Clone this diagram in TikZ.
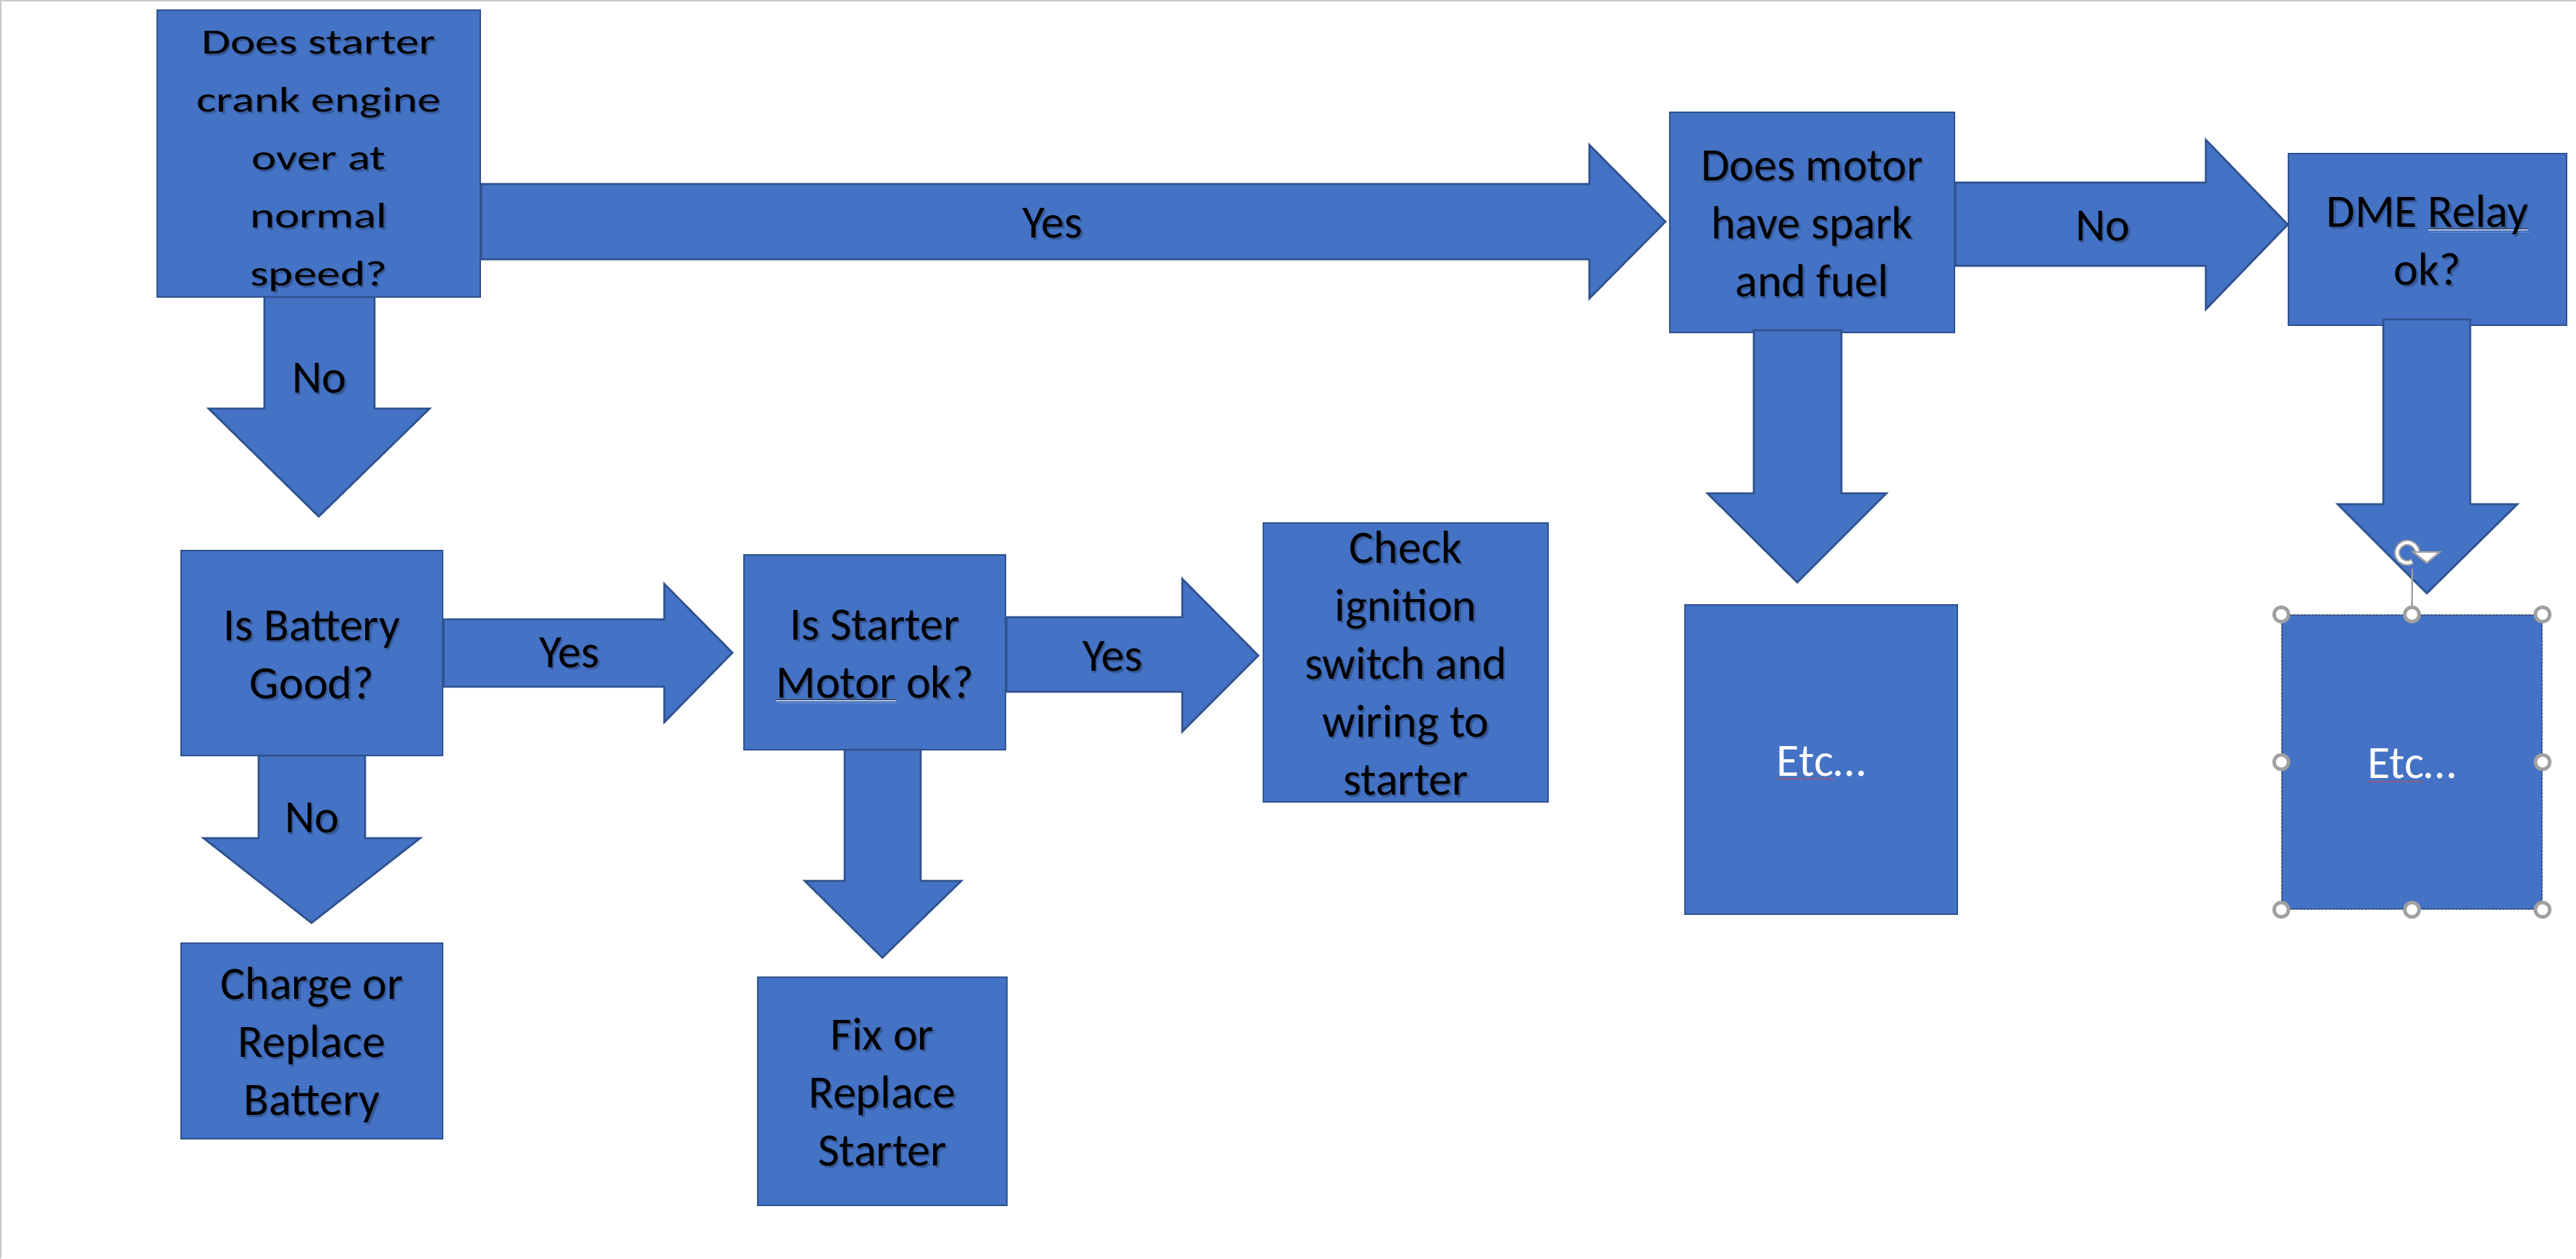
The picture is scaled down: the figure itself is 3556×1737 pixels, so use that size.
\documentclass[tikz,border=0pt]{standalone}
\usepackage{fontspec}
\usetikzlibrary{calc}
\setmainfont{Carlito}
\newfontfamily\widefont[FakeStretch=1.33]{Carlito}
\definecolor{boxfill}{HTML}{4472C4}
\definecolor{boxline}{HTML}{2F528F}
\definecolor{hgrey}{HTML}{A0A0A0}
\definecolor{squigred}{HTML}{D04848}
\newsavebox\wbox
\newcommand\st{\rule[-8.75pt]{0pt}{40pt}}
\newcommand\dul[1]{\sbox\wbox{#1}\rlap{\color{black!75}\rule[-1.4pt]{\wd\wbox}{0.5pt}}\rlap{\color{white}\rule[-2.6pt]{\wd\wbox}{0.5pt}}\usebox\wbox}
\newcommand\squig[1]{\sbox\wbox{#1}\rlap{\color{squigred}\xleaders\hbox{\rule[-2.6pt]{0.7pt}{0.5pt}\rule[-2pt]{0.7pt}{0.5pt}}\hskip\wd\wbox}\usebox\wbox}
\newcommand\stext[4]{%
  \node[#1, opacity=0.22, xshift=1.2pt, yshift=-1.5pt] at #3 {#4};
  \node[#1] (#2) at #3 {#4};}
\tikzset{
  boxnode/.style={rectangle, draw=boxline, fill=boxfill, line width=1.35pt, inner sep=0pt},
  barrow/.style={draw=boxline, fill=boxfill, line width=1.35pt, line join=miter},
  txt/.style={inner sep=0pt, align=center, text=black, font=\fontsize{32}{40}\selectfont},
  wtxt/.style={txt, font=\widefont\fontsize{24.5}{40}\selectfont},
  etctxt/.style={inner sep=0pt, align=center, text=white, font=\fontsize{32}{40}\selectfont},
  handle/.style={circle, draw=hgrey, fill=white, line width=2.4pt, minimum size=10pt, inner sep=0pt},
}
\begin{document}
\begin{tikzpicture}[x=0.5pt, y=-0.5pt]
\useasboundingbox[fill=white] (0,0) rectangle (3556,1737);
\draw[black!22, line width=1pt] (0,1) -- (3556,1);
\draw[black!22, line width=1pt] (1,0) -- (1,1737);

% boxes
\node[boxnode, minimum width=223pt, minimum height=198pt] (b1) at (440,212) {};
\node[boxnode, minimum width=196.5pt, minimum height=152pt] (b2) at (2501.5,307) {};
\node[boxnode, minimum width=192pt, minimum height=118.5pt] (b3) at (3351,330.5) {};
\node[boxnode, minimum width=180.5pt, minimum height=141.5pt] (b4) at (430.5,901.5) {};
\node[boxnode, minimum width=180.5pt, minimum height=134.5pt] (b5) at (1207.5,900.5) {};
\node[boxnode, minimum width=196.5pt, minimum height=192.5pt] (b6) at (1940.5,914.5) {};
\node[boxnode, minimum width=180.5pt, minimum height=135pt] (b7) at (430.5,1437) {};
\node[boxnode, minimum width=172pt, minimum height=157.5pt] (b8) at (1218,1506.5) {};
\node[boxnode, minimum width=188pt, minimum height=213.5pt] (b9) at (2514,1048.5) {};
\node[boxnode, line width=0.8pt, minimum width=179.5pt, minimum height=203pt] (b10) at (3329.5,1052) {};

% block arrows
\draw[barrow] (b1.east |- 0,254) -- (2194,254) -- (2194,200) -- (2299,306) -- (2194,412) -- (2194,358) -- (b1.east |- 0,358) -- cycle;
\draw[barrow] (b2.east |- 0,252) -- (3045,252) -- (3045,193) -- (3158,310) -- (3045,427) -- (3045,367) -- (b2.east |- 0,367) -- cycle;
\draw[barrow] (365,410) -- (365,564) -- (288,564) -- (440,713) -- (593,564) -- (517,564) -- (517,410) -- cycle;
\draw[barrow] (b4.east |- 0,855) -- (917,855) -- (917,806) -- (1011,901) -- (917,997) -- (917,948) -- (b4.east |- 0,948) -- cycle;
\draw[barrow] (357,1043) -- (357,1157) -- (281,1157) -- (430,1274) -- (580,1157) -- (504,1157) -- (504,1043) -- cycle;
\draw[barrow] (b5.east |- 0,852) -- (1632,852) -- (1632,799) -- (1737,905) -- (1632,1010) -- (1632,955) -- (b5.east |- 0,955) -- cycle;
\draw[barrow] (1166,1035) -- (1166,1216) -- (1111,1216) -- (1218,1322) -- (1327,1216) -- (1271,1216) -- (1271,1035) -- cycle;
\draw[barrow] (2421,456) -- (2421,681) -- (2357,681) -- (2481,804) -- (2604,681) -- (2542,681) -- (2542,456) -- cycle;
\draw[barrow] (3290,441) -- (3290,696) -- (3227,696) -- (3350,819) -- (3475,696) -- (3410,696) -- (3410,441) -- cycle;

% box texts
\stext{wtxt}{t1}{(b1.center)}{\st Does starter\\\st crank engine\\\st over at\\\st normal\\\st speed?}
\stext{txt}{t2}{(b2.center)}{\st Does motor\\\st have spark\\\st and fuel}
\stext{txt}{t3}{(b3.center)}{\st DME \dul{Relay}\\\st ok?}
\stext{txt}{t4}{(b4.center)}{\st Is Battery\\\st Good?}
\stext{txt}{t5}{(b5.center)}{\st Is Starter\\\st \dul{Motor} ok?}
\stext{txt}{t6}{(b6.center)}{\st Check\\\st ignition\\\st switch and\\\st wiring to\\\st starter}
\stext{txt}{t7}{(b7.center)}{\st Charge or\\\st Replace\\\st Battery}
\stext{txt}{t8}{(b8.center)}{\st Fix or\\\st Replace\\\st Starter}
\node[etctxt] (t9) at (b9.center) {\st\squig{Etc}…};
\node[etctxt] (t10) at (b10.center) {\st\squig{Etc}…};

% arrow labels
\stext{txt}{l1}{(1453,306)}{\st Yes}
\stext{txt}{l2}{(2903,310)}{\st No}
\stext{txt}{l3}{(441,520)}{\st No}
\stext{txt}{l4}{(786,899)}{\st Yes}
\stext{txt}{l5}{(431,1127)}{\st No}
\stext{txt}{l6}{(1536,903.5)}{\st Yes}

% selection frame on the last box
\draw[hgrey, line width=0.6pt, dash pattern=on 1.5pt off 1pt] (b10.north west) rectangle (b10.south east);
\coordinate (rc) at (3323,763);
\draw[hgrey, line width=1.2pt] (3330,785) -- (b10.north);
\node[handle] (h1) at (b10.north west) {};
\node[handle] (h2) at (b10.north) {};
\node[handle] (h3) at (b10.north east) {};
\node[handle] (h4) at (b10.west) {};
\node[handle] (h5) at (b10.east) {};
\node[handle] (h6) at (b10.south west) {};
\node[handle] (h7) at (b10.south) {};
\node[handle] (h8) at (b10.south east) {};
% rotation handle
\draw[hgrey, line width=4pt] (rc) ++(0:14) arc[start angle=0, end angle=-300, radius=14];
\draw[white, line width=2pt] (rc) ++(-2:14) arc[start angle=-2, end angle=-298, radius=14];
\draw[hgrey, fill=white, line width=1.2pt, line join=miter] ($(rc)+(8,-1)$) -- ($(rc)+(45,-1)$) -- ($(rc)+(27,14)$) -- cycle;
\end{tikzpicture}
\end{document}
